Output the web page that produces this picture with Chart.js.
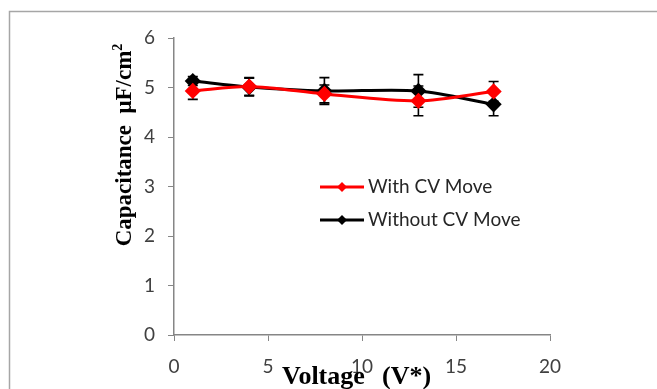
<!DOCTYPE html>
<html>
<head>
<meta charset="utf-8">
<script src="https://cdn.jsdelivr.net/npm/chart.js@4.4.1/dist/chart.umd.min.js"></script>
<style>
  body { margin: 0; background: #fff; }
  #wrap { width: 657px; height: 389px; position: relative; }
</style>
</head>
<body>
<div id="wrap"><canvas id="capChart" width="657" height="389"></canvas></div>
<script>
const voltage = [1, 4, 8, 13, 17];
const withCV = [4.93, 5.02, 4.87, 4.73, 4.92];
const withCVErr = [0.17, 0.18, 0.18, 0.30, 0.20];
const withoutCV = [5.13, 5.01, 4.93, 4.93, 4.66];
const withoutCVErr = [0.09, 0.18, 0.27, 0.33, 0.23];
const xTicks = [0, 5, 10, 15, 20];
const yTicks = [0, 1, 2, 3, 4, 5, 6];

const toPoints = (xs, ys) => xs.map((x, i) => ({ x: x, y: ys[i] }));

// error bars, frame, legend and axis titles drawn by hand
const extras = {
  id: 'extras',
  beforeDatasetsDraw(chart) {
    const ctx = chart.ctx;
    const xs = chart.scales.x, ys = chart.scales.y;
    ctx.save();
    ctx.strokeStyle = '#000';
    ctx.lineWidth = 1.6;
    [[withCV, withCVErr], [withoutCV, withoutCVErr]].forEach(([vals, errs]) => {
      vals.forEach((v, i) => {
        const px = xs.getPixelForValue(voltage[i]);
        const top = ys.getPixelForValue(v + errs[i]);
        const bot = ys.getPixelForValue(v - errs[i]);
        ctx.beginPath();
        ctx.moveTo(px, top); ctx.lineTo(px, bot);
        ctx.moveTo(px - 5, top); ctx.lineTo(px + 5, top);
        ctx.moveTo(px - 5, bot); ctx.lineTo(px + 5, bot);
        ctx.stroke();
      });
    });
    ctx.restore();
  },
  afterDraw(chart) {
    const ctx = chart.ctx;
    ctx.save();
    // frame
    ctx.strokeStyle = '#a6a6a6';
    ctx.lineWidth = 1.5;
    ctx.beginPath();
    ctx.moveTo(9.5, 389); ctx.lineTo(9.5, 11.5); ctx.lineTo(657, 11.5);
    ctx.stroke();

    // legend
    const items = [['With CV Move', '#ff0000', 187], ['Without CV Move', '#000000', 220]];
    items.forEach(([label, col, y]) => {
      ctx.strokeStyle = col;
      ctx.lineWidth = 3;
      ctx.beginPath();
      ctx.moveTo(320, y); ctx.lineTo(364, y);
      ctx.stroke();
      ctx.fillStyle = col;
      ctx.beginPath();
      ctx.moveTo(342, y - 5); ctx.lineTo(347, y); ctx.lineTo(342, y + 5); ctx.lineTo(337, y);
      ctx.closePath();
      ctx.fill();
      ctx.fillStyle = '#262626';
      ctx.font = '19px Lato';
      ctx.textBaseline = 'middle';
      ctx.fillText(label, 368, y);
    });

    // x title
    ctx.fillStyle = '#000';
    ctx.font = 'bold 26px "Liberation Serif"';
    ctx.textAlign = 'left';
    ctx.textBaseline = 'alphabetic';
    ctx.fillText('Voltage', 282, 384);
    ctx.fillText('(V*)', 382, 384);

    // y title
    ctx.translate(131, 145);
    ctx.rotate(-Math.PI / 2);
    ctx.font = 'bold 23px "Liberation Serif"';
    const main = 'Capacitance  \u03bcF/cm';
    const w = ctx.measureText(main).width;
    ctx.font = 'bold 14px "Liberation Serif"';
    const sw = ctx.measureText('2').width;
    ctx.font = 'bold 23px "Liberation Serif"';
    const start = -(w + sw) / 2;
    ctx.fillText(main, start, 0);
    ctx.font = 'bold 14px "Liberation Serif"';
    ctx.fillText('2', start + w, -9);
    ctx.restore();
  }
};

const axisColor = '#868686';
const tickFont = { family: 'Lato', size: 19 };

new Chart(document.getElementById('capChart'), {
  type: 'scatter',
  data: {
    datasets: [{
      label: 'With CV Move',
      data: toPoints(voltage, withCV),
      showLine: true,
      borderColor: '#ff0000',
      backgroundColor: '#ff0000',
      borderWidth: 3,
      tension: 0.3,
      pointStyle: 'rectRot',
      pointRadius: 6
    }, {
      label: 'Without CV Move',
      data: toPoints(voltage, withoutCV),
      showLine: true,
      borderColor: '#000000',
      backgroundColor: '#000000',
      borderWidth: 3,
      tension: 0.3,
      pointStyle: 'rectRot',
      pointRadius: 6
    }]
  },
  options: {
    responsive: false,
    animation: false,
    layout: { padding: { top: 38, right: 107, left: 0, bottom: 0 } },
    plugins: { legend: { display: false }, tooltip: { enabled: false } },
    scales: {
      x: {
        type: 'linear',
        min: 0, max: 20,
        afterBuildTicks: s => { s.ticks = xTicks.map(v => ({ value: v })); },
        afterFit: s => { s.height = 54; },
        grid: { drawOnChartArea: false, color: axisColor, tickLength: 6 },
        border: { color: axisColor, width: 1.5 },
        ticks: { font: tickFont, color: '#404040', padding: 14, maxRotation: 0 }
      },
      y: {
        min: 0, max: 6,
        afterBuildTicks: s => { s.ticks = yTicks.map(v => ({ value: v })); },
        afterFit: s => { s.width = 174; },
        grid: { drawOnChartArea: false, color: axisColor, tickLength: 6 },
        border: { color: axisColor, width: 1.5 },
        ticks: { font: tickFont, color: '#404040', padding: 13 }
      }
    }
  },
  plugins: [extras]
});
</script>
</body>
</html>
